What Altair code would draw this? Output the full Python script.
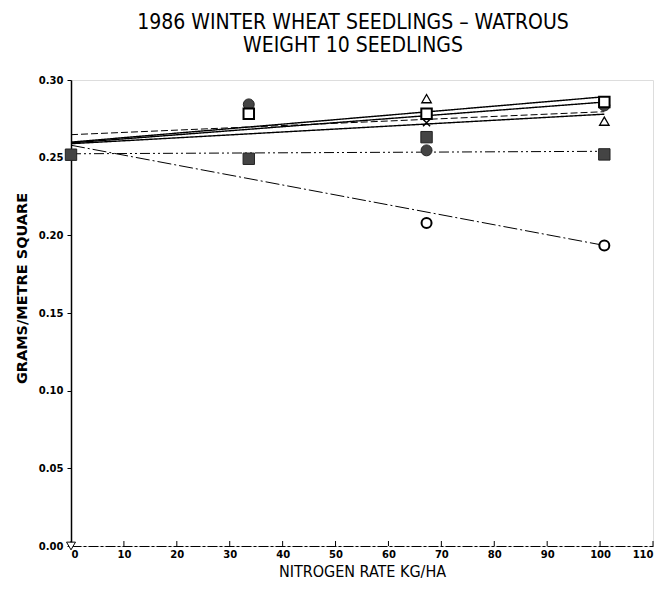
import altair as alt
import pandas as pd

# ---- data ----
x_ticks = [0, 10, 20, 30, 40, 50, 60, 70, 80, 90, 100, 110]
y_ticks = [0.0, 0.05, 0.10, 0.15, 0.20, 0.25, 0.30]

fill_sq_x = [0, 33.6, 67.2, 100.8]
fill_sq_y = [0.2519, 0.2493, 0.2632, 0.2521]
fill_ci_x = [33.6, 67.2, 100.8]
fill_ci_y = [0.2843, 0.2547, 0.2836]
open_sq_x = [33.6, 67.2, 100.8]
open_sq_y = [0.2783, 0.2783, 0.2858]
open_tri_x = [67.2, 100.8]
open_tri_y = [0.2880, 0.2735]
open_ci_x = [67.2, 100.8]
open_ci_y = [0.2079, 0.1935]
cross_x = [67.2]
cross_y = [0.2725]
inv_tri_x = [0]
inv_tri_y = [0.0]

line_ids = ["A", "B", "C", "D", "E", "F"]
line_x0 = [0, 0, 0, 0, 0, 0]
line_x1 = [100.8, 100.8, 100.8, 100.8, 100.8, 100.8]
line_y0 = [0.2600, 0.2595, 0.2648, 0.2590, 0.2525, 0.2580]
line_y1 = [0.2892, 0.2858, 0.2796, 0.2780, 0.2541, 0.1935]

TITLE_FONT = "DejaVu Sans Condensed, sans-serif"
LABEL_FONT = "DejaVu Sans, sans-serif"

W, H = 582, 466

xscale = alt.Scale(domain=[0, 110], nice=False, zero=False)
yscale = alt.Scale(domain=[0, 0.30], nice=False, zero=False)

xaxis = alt.Axis(values=x_ticks, format="d", title="NITROGEN RATE KG/HA",
                 grid=False, ticks=False, domainColor="black", domainWidth=1,
                 domainDash=[10, 2, 3, 2],
                 labelFont=LABEL_FONT, labelFontWeight="bold", labelFontSize=10,
                 labelColor="black", labelPadding=3,
                 titleFont=TITLE_FONT, titleFontWeight="normal", titleFontSize=16,
                 titleColor="black", titlePadding=4)
yaxis = alt.Axis(values=y_ticks, format=".2f", title="GRAMS/METRE SQUARE",
                 grid=False, tickSize=4, tickColor="black", domainColor="black",
                 domainWidth=1.5,
                 labelFont=LABEL_FONT, labelFontWeight="bold", labelFontSize=10,
                 labelColor="black", labelPadding=4,
                 titleFont=LABEL_FONT, titleFontWeight="bold", titleFontSize=14.5,
                 titleColor="black", titleAngle=270, titleAlign="center",
                 titleBaseline="middle", titleX=-49, titleY=208)


def X(field="x"):
    return alt.X(f"{field}:Q", scale=xscale, axis=xaxis)


def Y(field="y"):
    return alt.Y(f"{field}:Q", scale=yscale, axis=yaxis)


layers = []

# regression lines
dash_styles = {
    "A": [1, 0], "B": [1, 0], "C": [7, 3], "D": [1, 0],
    "E": [10, 3, 2, 3, 2, 3], "F": [14, 3, 2, 3],
}
width_styles = {"A": 1.4, "B": 1.4, "C": 1, "D": 1.4, "E": 1, "F": 1}
for i, lid in enumerate(line_ids):
    df = pd.DataFrame({"x": [line_x0[i], line_x1[i]], "y": [line_y0[i], line_y1[i]]})
    layers.append(
        alt.Chart(df).mark_line(color="black", strokeWidth=width_styles[lid],
                                strokeDash=dash_styles[lid])
        .encode(x=X(), y=Y())
    )

# x ticks pointing up
tick_df = pd.DataFrame({"x": x_ticks})
layers.append(
    alt.Chart(tick_df).mark_rule(color="black", strokeWidth=1)
    .encode(x=X(), y=alt.value(H - 5), y2=alt.value(H))
)


def pts(xs, ys):
    return pd.DataFrame({"x": xs, "y": ys})


# filled markers
layers.append(alt.Chart(pts(fill_ci_x, fill_ci_y)).mark_point(
    shape="circle", filled=True, fill="#444", stroke="#222", strokeWidth=1, size=120, opacity=1)
    .encode(x=X(), y=Y()))
layers.append(alt.Chart(pts(fill_sq_x, fill_sq_y)).mark_point(
    shape="square", filled=True, fill="#444", stroke="#222", strokeWidth=1, size=130, opacity=1)
    .encode(x=X(), y=Y()))
# open markers
layers.append(alt.Chart(pts(open_sq_x, open_sq_y)).mark_point(
    shape="square", filled=True, fill="white", stroke="black", strokeWidth=2, size=110, opacity=1)
    .encode(x=X(), y=Y()))
layers.append(alt.Chart(pts(open_tri_x, open_tri_y)).mark_point(
    shape="triangle-up", filled=True, fill="white", stroke="black", strokeWidth=1.3, size=90, opacity=1)
    .encode(x=X(), y=Y()))
layers.append(alt.Chart(pts(open_ci_x, open_ci_y)).mark_point(
    shape="circle", filled=True, fill="white", stroke="black", strokeWidth=2, size=100, opacity=1)
    .encode(x=X(), y=Y()))
layers.append(alt.Chart(pts(cross_x, cross_y)).mark_point(
    shape="M-1,-1L1,1M-1,1L1,-1", filled=False, stroke="black", strokeWidth=1.5, size=50, opacity=1)
    .encode(x=X(), y=Y()))
layers.append(alt.Chart(pts(inv_tri_x, inv_tri_y)).mark_point(
    shape="triangle-down", filled=True, fill="white", stroke="black", strokeWidth=1, size=80, opacity=1)
    .encode(x=X(), y=Y()))

chart = alt.layer(*layers).properties(
    width=W, height=H,
    title=alt.TitleParams(
        text=["1986 WINTER WHEAT SEEDLINGS \u2013 WATROUS", "WEIGHT 10 SEEDLINGS"],
        font=TITLE_FONT, fontSize=21, fontWeight="normal", color="black",
        anchor="middle", offset=19, lineHeight=23, dx=-9),
    autosize=alt.AutoSizeParams(type="none"),
    padding={"left": 71, "top": 80, "right": 11, "bottom": 43},
).configure_view(stroke=None).configure(background="white")

chart.save("out.html", embed_options={"renderer": "svg", "actions": False})
